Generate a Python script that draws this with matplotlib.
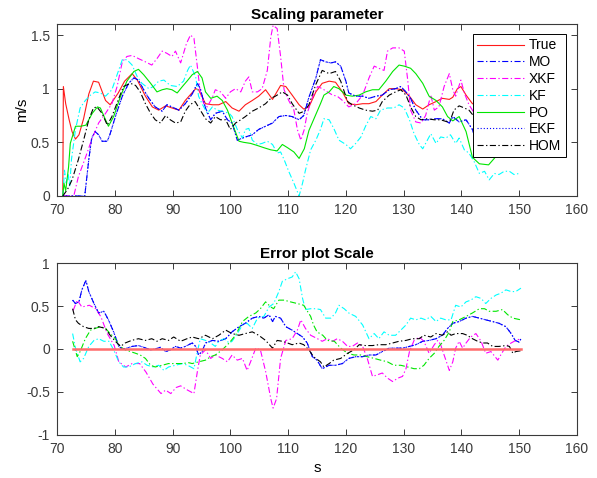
"""Scaling parameter estimates and their errors."""

import matplotlib

matplotlib.use("Agg")
import matplotlib.pyplot as plt
from matplotlib.ticker import FormatStrFormatter

plt.rcParams["font.family"] = ["Liberation Sans", "DejaVu Sans"]

# ---- top panel: estimates (m/s) ----
true_t = [71.0, 71.1, 71.5, 72.1, 72.6, 73.2, 73.8, 74.6, 75.5, 76.3, 77.2, 78.4, 79.2, 80.6,
          81.7, 83.0, 83.9, 85.3, 86.5, 87.6, 88.8, 89.9, 91.1, 92.2, 94.0, 94.5, 95.7, 96.9,
          98.0, 99.2, 100.3, 101.5, 102.6, 103.8, 104.9, 106.1, 107.3, 108.7, 109.6, 110.7,
          111.9, 112.7, 113.6, 114.8, 115.9, 117.1, 118.2, 119.4, 120.5, 121.7, 122.9, 124.0,
          125.2, 126.3, 127.5, 128.6, 129.8, 131.0, 132.1, 133.3, 134.4, 135.6, 136.7, 137.9,
          138.5, 139.3, 139.9, 140.8, 141.9, 143.5, 146.0, 148.0, 150.0]
true_v = [0.0, 1.02, 0.86, 0.71, 0.60, 0.53, 0.57, 0.72, 0.95, 1.07, 1.06, 0.89, 0.85, 0.96,
          1.07, 1.14, 1.08, 0.93, 0.83, 0.80, 0.84, 0.82, 0.80, 0.89, 1.0, 0.99, 0.86, 0.85,
          0.85, 0.88, 0.82, 0.79, 0.85, 0.89, 0.93, 0.99, 0.90, 1.03, 1.02, 0.94,
          0.85, 0.81, 0.83, 0.97, 1.05, 1.07, 1.06, 0.97, 0.86, 0.85, 0.86, 0.86,
          0.88, 0.94, 1.0, 1.0, 0.99, 0.93, 0.85, 0.81, 0.85, 0.88, 0.91, 0.90,
          0.92, 1.0, 1.02, 0.94, 0.86, 0.84, 0.90, 0.86, 0.88]

mo_t = [71.0, 74.8, 75.5, 76.0, 76.6, 77.2, 77.8, 78.7, 79.2, 80.1, 81.3, 82.4, 83.3, 84.1,
        85.0, 85.9, 87.0, 88.2, 89.0, 89.9, 91.1, 92.2, 93.4, 94.3, 94.8, 95.7, 96.6, 97.4,
        98.6, 99.5, 100.3, 101.2, 102.6, 103.8, 104.9, 106.1, 107.3, 108.4, 109.6, 110.7,
        111.9, 112.7, 113.6, 114.8, 115.6, 116.5, 117.4, 118.2, 119.1, 120.0, 120.5, 121.7,
        122.9, 124.0, 125.2, 126.3, 127.5, 128.6, 129.5, 130.4, 131.2, 132.1, 133.3, 134.4,
        135.6, 136.7, 137.9, 138.5, 139.6, 140.8, 141.9, 142.5, 144.0, 146.0, 148.0, 150.0]
mo_v = [0.0, 0.0, 0.34, 0.54, 0.60, 0.57, 0.51, 0.51, 0.58, 0.74, 0.93, 1.05, 1.10, 1.08,
        0.99, 0.91, 0.83, 0.79, 0.85, 0.83, 0.80, 0.86, 0.95, 1.05, 1.0, 0.82, 0.71, 0.77,
        0.79, 0.71, 0.68, 0.52, 0.55, 0.57, 0.62, 0.65, 0.68, 0.74, 0.75, 0.74,
        0.71, 0.75, 0.92, 1.10, 1.27, 1.25, 1.24, 1.25, 1.21, 1.07, 0.96, 0.93,
        0.93, 0.91, 0.93, 0.94, 0.99, 1.0, 1.02, 0.97, 0.91, 0.80, 0.71, 0.71,
        0.72, 0.72, 0.68, 0.74, 0.69, 0.71, 0.62, 0.52, 0.55, 0.70, 0.78, 0.80]

xkf_t = [71.0, 72.9, 73.7, 75.0, 76.1, 77.2, 78.4, 79.5, 80.4, 81.3, 82.1, 83.0, 84.1, 85.3,
         86.4, 87.3, 88.2, 89.0, 89.9, 90.5, 91.4, 92.4, 93.1, 93.7, 94.3, 94.8, 95.4, 96.0,
         96.9, 97.4, 98.3, 99.2, 100.0, 100.9, 101.8, 102.6, 103.2, 103.8, 104.7, 105.5,
         106.4, 107.0, 107.4, 108.1, 108.7, 109.3, 110.1, 111.0, 111.6, 112.2, 112.8, 113.3,
         114.2, 115.1, 115.9, 116.8, 117.7, 118.5, 119.4, 120.5, 121.7, 122.9, 124.0, 124.9,
         125.7, 126.6, 127.2, 128.1, 129.2, 130.1, 130.7, 131.2, 132.1, 133.0, 133.8, 134.7,
         135.3, 136.1, 137.0, 137.9, 138.5, 139.0, 139.9, 140.5, 141.3, 141.9, 142.5, 145.0,
         150.0]
xkf_v = [0.0, 0.0, 0.18, 0.37, 0.54, 0.68, 0.77, 0.86, 1.02, 1.25, 1.30, 1.31, 1.28, 1.25,
         1.22, 1.28, 1.35, 1.33, 1.30, 1.35, 1.24, 1.42, 1.50, 1.47, 1.20, 0.96, 0.86, 0.83,
         0.92, 0.99, 0.97, 0.91, 0.97, 1.0, 0.97, 1.07, 1.11, 0.97, 0.97, 1.0,
         1.17, 1.48, 1.59, 1.56, 1.30, 0.99, 0.89, 0.80, 0.62, 0.52, 0.62, 0.77,
         0.92, 1.02, 1.0, 0.97, 0.94, 0.93, 0.89, 0.83, 0.86, 0.94, 1.10, 1.21,
         1.19, 1.17, 1.35, 1.38, 1.38, 1.35, 1.08, 0.80, 0.69, 0.68, 0.75, 0.94,
         0.80, 0.83, 1.02, 1.14, 0.99, 0.93, 1.08, 0.96, 0.85, 0.80, 0.70, 0.80,
         0.85]

kf_t = [71.0, 71.3, 71.6, 71.9, 72.2, 72.5, 73.2, 74.0, 74.9, 75.8, 76.6, 77.5, 78.4, 79.5,
        80.4, 81.3, 82.1, 83.0, 83.9, 84.7, 85.9, 86.7, 87.6, 88.5, 89.6, 90.8, 91.9, 92.6,
        93.1, 94.0, 94.5, 95.1, 96.0, 96.9, 97.7, 98.6, 99.8, 100.3, 101.2, 102.1, 102.6,
        103.2, 103.8, 104.7, 105.5, 106.4, 107.3, 108.1, 108.7, 109.3, 110.1, 111.0, 111.9,
        112.5, 113.0, 113.9, 114.8, 115.6, 116.2, 117.1, 117.9, 118.8, 120.0, 120.8, 121.7,
        122.6, 123.4, 124.3, 125.2, 126.0, 127.2, 128.3, 129.2, 130.1, 131.0, 131.8, 132.7,
        133.3, 134.1, 134.7, 135.6, 136.4, 137.3, 138.1, 139.0, 139.6, 140.5, 141.3, 142.2,
        143.1, 144.0, 144.8, 145.7, 146.5, 147.4, 148.3, 149.1, 150.0]
kf_v = [0.0, 0.24, 0.12, 0.21, 0.09, 0.34, 0.62, 0.82, 0.89, 0.94, 0.97, 0.96, 0.93, 0.99,
        1.13, 1.27, 1.27, 1.22, 1.11, 1.05, 1.0, 1.02, 1.07, 1.08, 1.03, 1.02, 1.07, 1.17,
        1.22, 1.11, 0.93, 0.86, 0.77, 0.83, 0.80, 0.79, 0.77, 0.74, 0.62, 0.54, 0.62,
        0.63, 0.52, 0.48, 0.49, 0.51, 0.48, 0.40, 0.41, 0.34, 0.23, 0.12, 0.0,
        0.12, 0.24, 0.43, 0.52, 0.62, 0.72, 0.71, 0.63, 0.52, 0.48, 0.44, 0.49,
        0.55, 0.65, 0.74, 0.72, 0.80, 0.82, 0.82, 0.85, 0.82, 0.71, 0.58, 0.48,
        0.44, 0.52, 0.58, 0.49, 0.55, 0.54, 0.57, 0.49, 0.54, 0.43, 0.40, 0.32,
        0.21, 0.23, 0.15, 0.21, 0.20, 0.23, 0.23, 0.20, 0.21]

po_t = [71.0, 71.2, 71.5, 71.8, 72.0, 72.3, 73.2, 74.1, 75.0, 76.1, 77.0, 77.5, 78.4, 78.9,
        79.8, 81.0, 82.1, 83.3, 84.1, 85.0, 86.2, 87.3, 88.2, 89.0, 89.9, 90.8, 91.7, 92.5,
        93.4, 94.3, 95.1, 95.7, 96.6, 97.7, 98.6, 99.5, 100.3, 101.5, 102.3, 103.5, 104.7,
        105.8, 107.0, 108.1, 109.0, 109.9, 111.0, 111.9, 112.8, 113.6, 114.8, 115.6, 116.2,
        117.1, 117.9, 118.8, 120.0, 121.1, 122.3, 123.4, 124.6, 125.7, 126.9, 128.1, 129.2,
        130.1, 131.2, 132.1, 133.3, 134.4, 135.6, 136.7, 137.6, 138.5, 139.6, 140.8, 141.9,
        143.1, 144.7, 146.0, 147.5, 150.0]
po_v = [0.0, 0.12, 0.05, 0.18, 0.27, 0.49, 0.65, 0.65, 0.66, 0.77, 0.83, 0.82, 0.71, 0.65,
        0.74, 0.93, 1.07, 1.16, 1.18, 1.13, 1.05, 0.97, 0.99, 1.0, 0.99, 0.96, 1.02, 1.07,
        1.13, 1.16, 1.10, 0.97, 0.91, 0.93, 0.89, 0.80, 0.68, 0.51, 0.50, 0.49, 0.47,
        0.45, 0.43, 0.42, 0.48, 0.45, 0.41, 0.35, 0.44, 0.61, 0.76, 0.86, 0.94,
        0.97, 1.02, 1.0, 0.94, 0.93, 0.94, 0.97, 0.99, 0.99, 1.07, 1.16, 1.22,
        1.21, 1.19, 1.14, 1.05, 0.93, 0.89, 0.83, 0.74, 0.70, 0.74, 0.60, 0.36,
        0.30, 0.29, 0.37, 0.48, 0.55]

hom_t = [71.0, 71.8, 72.6, 73.7, 74.6, 75.5, 76.3, 76.9, 77.8, 78.7, 79.5, 80.7, 81.5, 82.7,
         83.6, 84.4, 85.3, 86.2, 87.0, 87.9, 88.8, 89.6, 90.5, 91.4, 92.2, 93.0, 93.9, 94.8,
         95.7, 96.6, 97.4, 98.3, 99.2, 100.0, 100.9, 101.8, 102.6, 103.8, 104.9, 106.1, 107.0,
         107.8, 109.0, 109.9, 110.7, 111.9, 112.8, 113.6, 114.8, 115.9, 117.1, 118.2, 119.1,
         120.3, 121.1, 122.3, 123.4, 124.6, 125.5, 126.3, 127.5, 128.6, 129.5, 130.4, 131.2,
         132.1, 133.0, 134.1, 135.3, 136.4, 137.6, 138.1, 138.7, 139.6, 140.5, 141.3, 142.2,
         144.0, 147.0, 150.0]
hom_v = [0.0, 0.06, 0.15, 0.34, 0.52, 0.71, 0.82, 0.83, 0.77, 0.66, 0.74, 0.91, 1.02, 1.05,
         1.03, 0.97, 0.86, 0.77, 0.71, 0.68, 0.75, 0.71, 0.68, 0.69, 0.79, 0.85, 0.88, 0.80,
         0.72, 0.68, 0.74, 0.71, 0.71, 0.62, 0.68, 0.71, 0.74, 0.79, 0.82, 0.86, 0.91,
         0.93, 0.97, 0.94, 0.86, 0.77, 0.79, 0.85, 1.04, 1.17, 1.14, 1.16, 1.07,
         0.88, 0.85, 0.82, 0.80, 0.79, 0.80, 0.88, 0.94, 0.97, 0.99, 0.94, 0.83,
         0.74, 0.71, 0.72, 0.71, 0.71, 0.69, 0.71, 0.80, 0.84, 0.82, 0.80, 0.74,
         0.72, 0.80, 0.88]

# EKF coincides with MO in the picture
ekf_t = mo_t
ekf_v = mo_v

# ---- bottom panel: errors (true - estimate) ----
err_true_t = [72.7, 150.3]
err_true_v = [0.0, 0.0]

err_mo_t = [72.7, 73.2, 73.8, 74.3, 75.0, 75.5, 76.4, 77.2, 78.1, 78.9, 79.8, 80.7, 81.3,
            82.1, 83.0, 84.1, 85.0, 86.2, 87.0, 87.9, 88.8, 89.6, 90.5, 91.4, 92.2, 93.4,
            94.0, 94.5, 95.1, 95.7, 96.9, 98.0, 99.2, 100.3, 101.5, 102.6, 103.8, 104.9,
            105.8, 106.7, 107.3, 107.8, 108.7, 109.6, 110.7, 111.6, 112.5, 113.3, 114.2,
            115.0, 115.9, 117.1, 118.2, 119.4, 120.5, 121.7, 122.9, 124.0, 125.2, 126.3,
            127.5, 128.6, 129.8, 131.0, 132.1, 133.3, 134.4, 135.6, 136.7, 137.6, 138.5,
            139.6, 140.8, 141.9, 143.1, 144.2, 145.4, 146.5, 147.7, 148.6, 149.3, 150.0, 150.3]
err_mo_v = [0.57, 0.53, 0.55, 0.69, 0.80, 0.67, 0.53, 0.42, 0.44, 0.34, 0.20, 0.03, 0.0,
            0.01, 0.03, 0.04, 0.02, -0.01, 0.0, 0.02, -0.03, -0.01, 0.03, 0.01, 0.03, 0.07,
            0.03, -0.07, -0.03, 0.07, 0.10, 0.09, 0.12, 0.20, 0.26, 0.30, 0.36, 0.38,
            0.36, 0.40, 0.32, 0.38, 0.36, 0.26, 0.22, 0.18, 0.14, 0.07, -0.09,
            -0.13, -0.23, -0.19, -0.19, -0.17, -0.11, -0.09, -0.09, -0.07, -0.07, -0.03,
            0.01, 0.01, 0.01, 0.03, 0.05, 0.09, 0.10, 0.12, 0.16, 0.24, 0.30,
            0.32, 0.36, 0.38, 0.36, 0.34, 0.32, 0.30, 0.26, 0.18, 0.10, 0.08, 0.12]

err_xkf_t = [72.8, 73.5, 74.3, 75.6, 76.7, 77.6, 78.7, 79.9, 80.7, 81.9, 83.0, 84.3, 85.4,
             86.6, 88.0, 88.8, 89.7, 90.6, 91.4, 92.6, 93.7, 94.3, 94.8, 95.7, 96.6, 97.4,
             98.6, 99.5, 100.3, 101.2, 102.1, 102.9, 103.5, 104.4, 105.2, 106.1, 107.0, 107.4,
             108.0, 108.7, 109.6, 110.7, 111.6, 112.2, 113.0, 113.9, 114.8, 115.9, 116.8,
             117.7, 118.5, 119.4, 120.3, 121.1, 122.0, 122.9, 123.7, 124.6, 125.5, 126.3,
             127.2, 128.1, 129.0, 129.8, 130.4, 131.0, 131.8, 132.7, 133.5, 134.4, 135.3,
             135.9, 136.4, 137.3, 137.9, 138.5, 139.0, 139.6, 140.2, 140.8, 141.6, 142.5,
             143.4, 144.2, 145.1, 146.3, 146.8, 147.7, 148.6, 149.4, 150.3]
err_xkf_v = [0.45, 0.57, 0.49, 0.51, 0.47, 0.375, 0.18, 0.04, -0.15, -0.21, -0.17, -0.17, -0.27,
             -0.41, -0.52, -0.48, -0.52, -0.45, -0.43, -0.48, -0.52, -0.26, -0.07, -0.01, -0.11, -0.07,
             -0.11, -0.15, -0.07, -0.13, -0.11, -0.25, -0.15, 0.01, -0.01, -0.26, -0.58, -0.69,
             -0.58, -0.11, 0.10, 0.12, 0.22, 0.34, 0.24, 0.16, 0.13, 0.09, 0.12,
             0.09, 0.12, 0.09, 0.03, 0.03, 0.07, 0.03, -0.11, -0.32, -0.30, -0.28,
             -0.34, -0.38, -0.34, -0.32, -0.23, -0.03, 0.10, 0.14, 0.09, -0.05, 0.05,
             0.10, 0.05, -0.13, -0.25, -0.15, 0.01, 0.09, 0.01, 0.07, 0.14, 0.18,
             0.09, -0.05, -0.03, -0.13, -0.07, 0.03, 0.07, 0.10, 0.12]

err_kf_t = [72.7, 73.2, 74.0, 74.6, 75.5, 76.4, 77.2, 78.1, 79.0, 79.8, 80.7, 81.5, 82.4,
            83.6, 84.7, 85.6, 86.7, 87.6, 88.5, 89.3, 90.5, 91.7, 92.6, 93.7, 94.3, 94.8,
            95.7, 96.6, 97.4, 98.0, 98.9, 99.8, 100.3, 101.2, 102.1, 102.9, 103.8, 104.7,
            105.8, 106.7, 107.5, 108.4, 109.0, 109.9, 110.7, 111.3, 111.9, 112.5, 113.0,
            113.9, 114.8, 115.6, 116.5, 117.4, 118.2, 118.8, 119.7, 120.5, 121.7, 122.9,
            124.0, 124.9, 125.7, 126.6, 127.5, 128.6, 129.5, 130.4, 131.2, 132.1, 133.0,
            133.8, 134.7, 135.6, 136.4, 137.3, 138.2, 139.0, 139.9, 140.8, 141.6, 142.5,
            143.4, 144.2, 145.1, 146.0, 146.8, 147.7, 148.6, 149.4, 150.3]
err_kf_v = [0.18, 0.01, -0.15, -0.11, 0.03, 0.10, 0.12, 0.09, 0.09, -0.01, -0.15, -0.21, -0.21,
            -0.17, -0.15, -0.19, -0.21, -0.19, -0.25, -0.21, -0.19, -0.17, -0.19, -0.23, -0.03, 0.12,
            0.10, 0.07, 0.03, 0.09, 0.12, 0.07, 0.09, 0.18, 0.28, 0.30, 0.24, 0.36,
            0.38, 0.49, 0.53, 0.67, 0.79, 0.82, 0.84, 0.90, 0.82, 0.59, 0.46,
            0.47, 0.47, 0.46, 0.36, 0.36, 0.42, 0.51, 0.47, 0.42, 0.38, 0.28,
            0.12, 0.18, 0.12, 0.20, 0.16, 0.16, 0.22, 0.28, 0.36, 0.34, 0.36,
            0.34, 0.38, 0.32, 0.36, 0.34, 0.34, 0.51, 0.49, 0.55, 0.57, 0.61,
            0.59, 0.53, 0.59, 0.63, 0.65, 0.69, 0.67, 0.67, 0.71]

err_po_t = [72.7, 73.5, 74.0, 74.9, 75.8, 76.6, 77.5, 78.4, 79.2, 80.1, 80.9, 81.8, 82.7,
            83.6, 84.4, 85.3, 86.2, 87.0, 88.2, 89.3, 90.5, 91.7, 92.8, 93.4, 94.5, 95.7,
            96.6, 97.4, 98.6, 99.8, 100.9, 102.1, 103.2, 104.4, 105.2, 106.1, 107.0, 107.5,
            108.4, 109.3, 110.4, 111.6, 112.7, 113.9, 114.4, 115.0, 116.0, 116.8, 118.0,
            119.1, 120.3, 121.4, 122.6, 123.7, 124.9, 126.0, 127.2, 128.3, 129.5, 130.7,
            131.8, 132.7, 133.5, 134.4, 135.3, 136.1, 137.0, 137.9, 138.5, 139.6, 140.8,
            141.9, 143.1, 144.0, 144.8, 146.0, 147.1, 148.0, 148.9, 150.3]
err_po_v = [0.09, -0.09, -0.03, 0.12, 0.22, 0.24, 0.26, 0.24, 0.18, 0.12, 0.03, -0.01, -0.03,
            -0.05, -0.07, -0.11, -0.19, -0.21, -0.19, -0.17, -0.17, -0.17, -0.16, -0.17, -0.15, -0.13,
            -0.09, -0.07, -0.01, 0.07, 0.16, 0.32, 0.38, 0.42, 0.47, 0.55, 0.49, 0.47,
            0.57, 0.57, 0.55, 0.53, 0.51, 0.38, 0.28, 0.20, 0.16, 0.10, 0.09,
            0.01, -0.05, -0.07, -0.07, -0.09, -0.11, -0.13, -0.15, -0.19, -0.19, -0.21,
            -0.23, -0.23, -0.19, -0.11, -0.05, 0.03, 0.10, 0.20, 0.32, 0.34, 0.38,
            0.42, 0.47, 0.47, 0.44, 0.44, 0.46, 0.40, 0.36, 0.34]

err_hom_t = [72.7, 73.2, 73.7, 74.6, 75.5, 76.4, 77.2, 78.4, 79.2, 80.1, 81.0, 81.8, 82.9,
             84.1, 85.3, 86.4, 87.3, 88.2, 89.3, 90.2, 91.4, 92.5, 93.4, 94.5, 95.7, 96.9,
             98.0, 99.2, 100.3, 101.5, 102.6, 103.8, 104.9, 106.1, 107.3, 108.1, 109.0, 109.9,
             110.7, 111.9, 112.7, 113.6, 114.4, 115.6, 116.2, 117.1, 117.9, 119.1, 120.3,
             121.4, 122.3, 123.4, 124.6, 125.7, 126.9, 128.1, 129.2, 130.4, 131.5, 132.7,
             133.5, 134.7, 135.6, 136.7, 137.6, 138.2, 139.0, 140.2, 141.0, 141.9, 142.8,
             143.7, 144.5, 145.4, 146.5, 147.7, 148.3, 148.9, 149.4, 150.3]
err_hom_v = [0.47, 0.34, 0.30, 0.26, 0.24, 0.24, 0.26, 0.24, 0.16, 0.09, 0.03, 0.07, 0.10,
             0.12, 0.10, 0.12, 0.09, 0.12, 0.10, 0.14, 0.09, 0.12, 0.14, 0.12, 0.16, 0.12,
             0.16, 0.22, 0.18, 0.16, 0.18, 0.20, 0.16, 0.10, 0.01, 0.10, 0.09, 0.07,
             0.05, 0.07, 0.05, -0.01, -0.09, -0.15, -0.21, -0.17, -0.13, -0.11, -0.05,
             -0.01, 0.05, 0.04, 0.04, 0.05, 0.05, 0.07, 0.09, 0.10, 0.12, 0.12,
             0.16, 0.14, 0.18, 0.16, 0.20, 0.16, 0.18, 0.18, 0.16, 0.12, 0.09,
             0.07, 0.07, 0.03, 0.03, 0.04, 0.03, -0.05, -0.03, -0.02]

x_ticks = [70, 80, 90, 100, 110, 120, 130, 140, 150, 160]
top_yticks = [0, 0.5, 1, 1.5]
bot_yticks = [-1, -0.5, 0, 0.5, 1]

DASHDOT = (0, (5.5, 2.2, 1.2, 2.2))
DOTTED = (0, (1, 1.8))
FRAME = "#3a3a3a"


def style_axes(ax, yticks, ylim, title):
    """MATLAB-like box axes with inward ticks on all sides."""
    ax.set_xlim(70, 160)
    ax.set_ylim(*ylim)
    ax.set_xticks(x_ticks)
    ax.set_yticks(yticks)
    ax.yaxis.set_major_formatter(FormatStrFormatter("%g"))
    ax.tick_params(direction="in", top=True, right=True, length=4.5, width=0.7,
                   labelsize=10, colors=FRAME, pad=5)
    for sp in ax.spines.values():
        sp.set_color(FRAME)
        sp.set_linewidth(0.8)
    ax.set_title(title, fontsize=11, fontweight="bold", pad=4)


fig = plt.figure(figsize=(5.97, 4.78), dpi=100)
ax1 = fig.add_axes([0.0955, 0.590, 0.871, 0.3592])
ax2 = fig.add_axes([0.0955, 0.0906, 0.871, 0.3586])

lw = 0.8
ax1.plot(true_t, true_v, color="#ff1a1a", lw=lw, label="True")
ax1.plot(mo_t, mo_v, color="blue", lw=lw, ls=DASHDOT, label="MO")
ax1.plot(xkf_t, xkf_v, color="magenta", lw=lw, ls=DASHDOT, label="XKF")
ax1.plot(kf_t, kf_v, color="cyan", lw=lw, ls=DASHDOT, label="KF")
ax1.plot(po_t, po_v, color="#00e600", lw=lw, label="PO")
ax1.plot(ekf_t, ekf_v, color="blue", lw=lw, ls=DOTTED, label="EKF")
ax1.plot(hom_t, hom_v, color="black", lw=lw, ls=DASHDOT, label="HOM")
style_axes(ax1, top_yticks, (0, 1.6), "Scaling parameter")
ax1.set_ylabel("m/s", fontsize=11, labelpad=1)

leg = ax1.legend(loc="upper right", bbox_to_anchor=(0.978, 0.942), borderaxespad=0,
                 fontsize=10, fancybox=False, framealpha=1, edgecolor="black",
                 borderpad=0.3, handlelength=3.4, handletextpad=0.35, labelspacing=0.2)
leg.get_frame().set_linewidth(0.7)

ax2.plot(err_mo_t, err_mo_v, color="blue", lw=lw, ls=DASHDOT)
ax2.plot(err_xkf_t, err_xkf_v, color="magenta", lw=lw, ls=DASHDOT)
ax2.plot(err_kf_t, err_kf_v, color="cyan", lw=lw, ls=DASHDOT)
ax2.plot(err_po_t, err_po_v, color="#00e600", lw=lw, ls=DASHDOT)
ax2.plot(err_mo_t, err_mo_v, color="blue", lw=lw, ls=DOTTED)
ax2.plot(err_hom_t, err_hom_v, color="black", lw=lw, ls=DASHDOT)
ax2.plot(err_true_t, err_true_v, color="#ff6b6b", lw=1.8, zorder=3)
style_axes(ax2, bot_yticks, (-1, 1), "Error plot Scale")
ax2.set_xlabel("s", fontsize=11)

fig.savefig("out.png", dpi=100)
